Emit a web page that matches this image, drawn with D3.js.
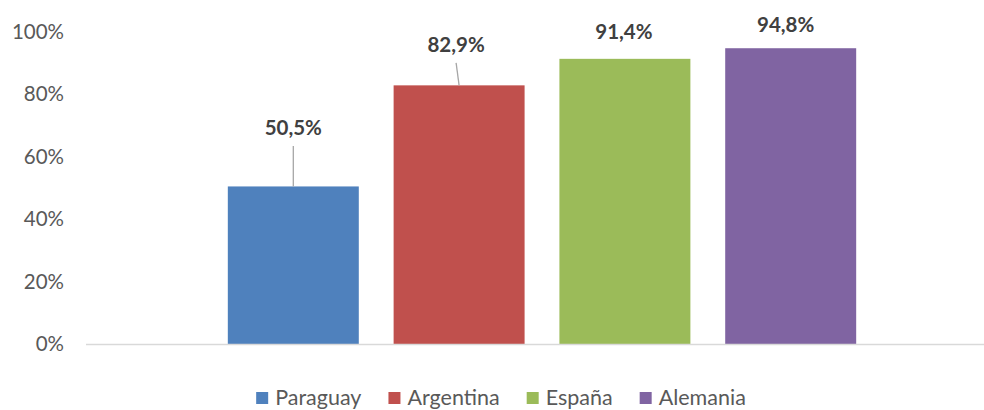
<!DOCTYPE html>
<html>
<head>
<meta charset="utf-8">
<script src="https://cdn.jsdelivr.net/npm/d3@7"></script>
<style>
  body { margin: 0; background: #fff; }
  svg { display: block; font-family: Lato, "Open Sans", sans-serif; }
</style>
</head>
<body>
<div id="chart"></div>
<script>
// data
var countries = ["Paraguay", "Argentina", "España", "Alemania"];
var values = [0.505, 0.829, 0.914, 0.948];
var yTicks = [0, 0.2, 0.4, 0.6, 0.8, 1.0];
var colors = ["#4F81BD", "#C0504D", "#9BBB59", "#8064A2"];

// label placement (label baseline distance above bar top, x nudge)
var labelRaise = [51, 33, 20, 16];
var labelShift = [0, -3, -1, -5];

var width = 984, height = 410;
var svg = d3.select("#chart").append("svg")
    .attr("width", width)
    .attr("height", height);

var y = d3.scaleLinear()
    .domain([0, 1])
    .range([344, 32]);

var x = d3.scaleBand()
    .domain(countries)
    .range([193, 891])
    .padding(0.21);

var fmt = function(v){ return d3.format(".1f")(v*100).replace(".", ",") + "%"; };

// y axis labels
var yAxis = svg.append("g")
    .attr("transform", "translate(64,0)")
    .call(d3.axisLeft(y).tickValues(yTicks).tickSize(0).tickPadding(0)
        .tickFormat(function(d){ return Math.round(d*100) + "%"; }));
yAxis.select(".domain").remove();
yAxis.selectAll("text")
    .attr("fill", "#595959")
    .style("font-size", "20.5px")
    .style("font-family", "Lato, 'Open Sans', sans-serif");

// bars
svg.append("g").selectAll("rect")
    .data(countries)
    .join("rect")
    .attr("x", function(d){ return x(d); })
    .attr("y", function(d, i){ return y(values[i]); })
    .attr("width", x.bandwidth())
    .attr("height", function(d, i){ return y(0) - y(values[i]); })
    .attr("fill", function(d, i){ return colors[i]; });

// baseline
svg.append("line")
    .attr("x1", 86).attr("x2", 984)
    .attr("y1", y(0) + 0.5).attr("y2", y(0) + 0.5)
    .attr("stroke", "#d9d9d9")
    .attr("stroke-width", 1.5);

// leader lines
svg.append("g").selectAll("line")
    .data(countries.filter(function(d, i){ return labelRaise[i] > 25; }))
    .join("line")
    .attr("x1", function(d){ var i = countries.indexOf(d); return x(d) + x.bandwidth()/2 + labelShift[i]; })
    .attr("y1", function(d){ var i = countries.indexOf(d); return y(values[i]) - labelRaise[i] + 10.5; })
    .attr("x2", function(d){ return x(d) + x.bandwidth()/2; })
    .attr("y2", function(d){ var i = countries.indexOf(d); return y(values[i]); })
    .attr("stroke", "#a6a6a6")
    .attr("stroke-width", 1.3);

// value labels
svg.append("g").selectAll("text")
    .data(countries)
    .join("text")
    .attr("x", function(d, i){ return x(d) + x.bandwidth()/2 + labelShift[i]; })
    .attr("y", function(d, i){ return y(values[i]) - labelRaise[i]; })
    .attr("text-anchor", "middle")
    .attr("fill", "#404040")
    .style("font-size", "20.5px")
    .style("font-weight", "bold")
    .text(function(d, i){ return fmt(values[i]); });

// legend
var legend = svg.append("g");
var items = legend.selectAll("g")
    .data(countries)
    .join("g");
items.append("rect")
    .attr("width", 12).attr("height", 12)
    .attr("y", -13)
    .attr("fill", function(d, i){ return colors[i]; });
items.append("text")
    .attr("x", 19)
    .attr("fill", "#595959")
    .style("font-size", "21.5px")
    .text(function(d){ return d; });
var pos = 0;
items.each(function(){
    d3.select(this).attr("transform", "translate(" + pos + ",0)");
    pos += 19 + this.querySelector("text").getComputedTextLength() + 27;
});
var total = pos - 27;
legend.attr("transform", "translate(" + (501 - total/2) + ",405)");
</script>
</body>
</html>
